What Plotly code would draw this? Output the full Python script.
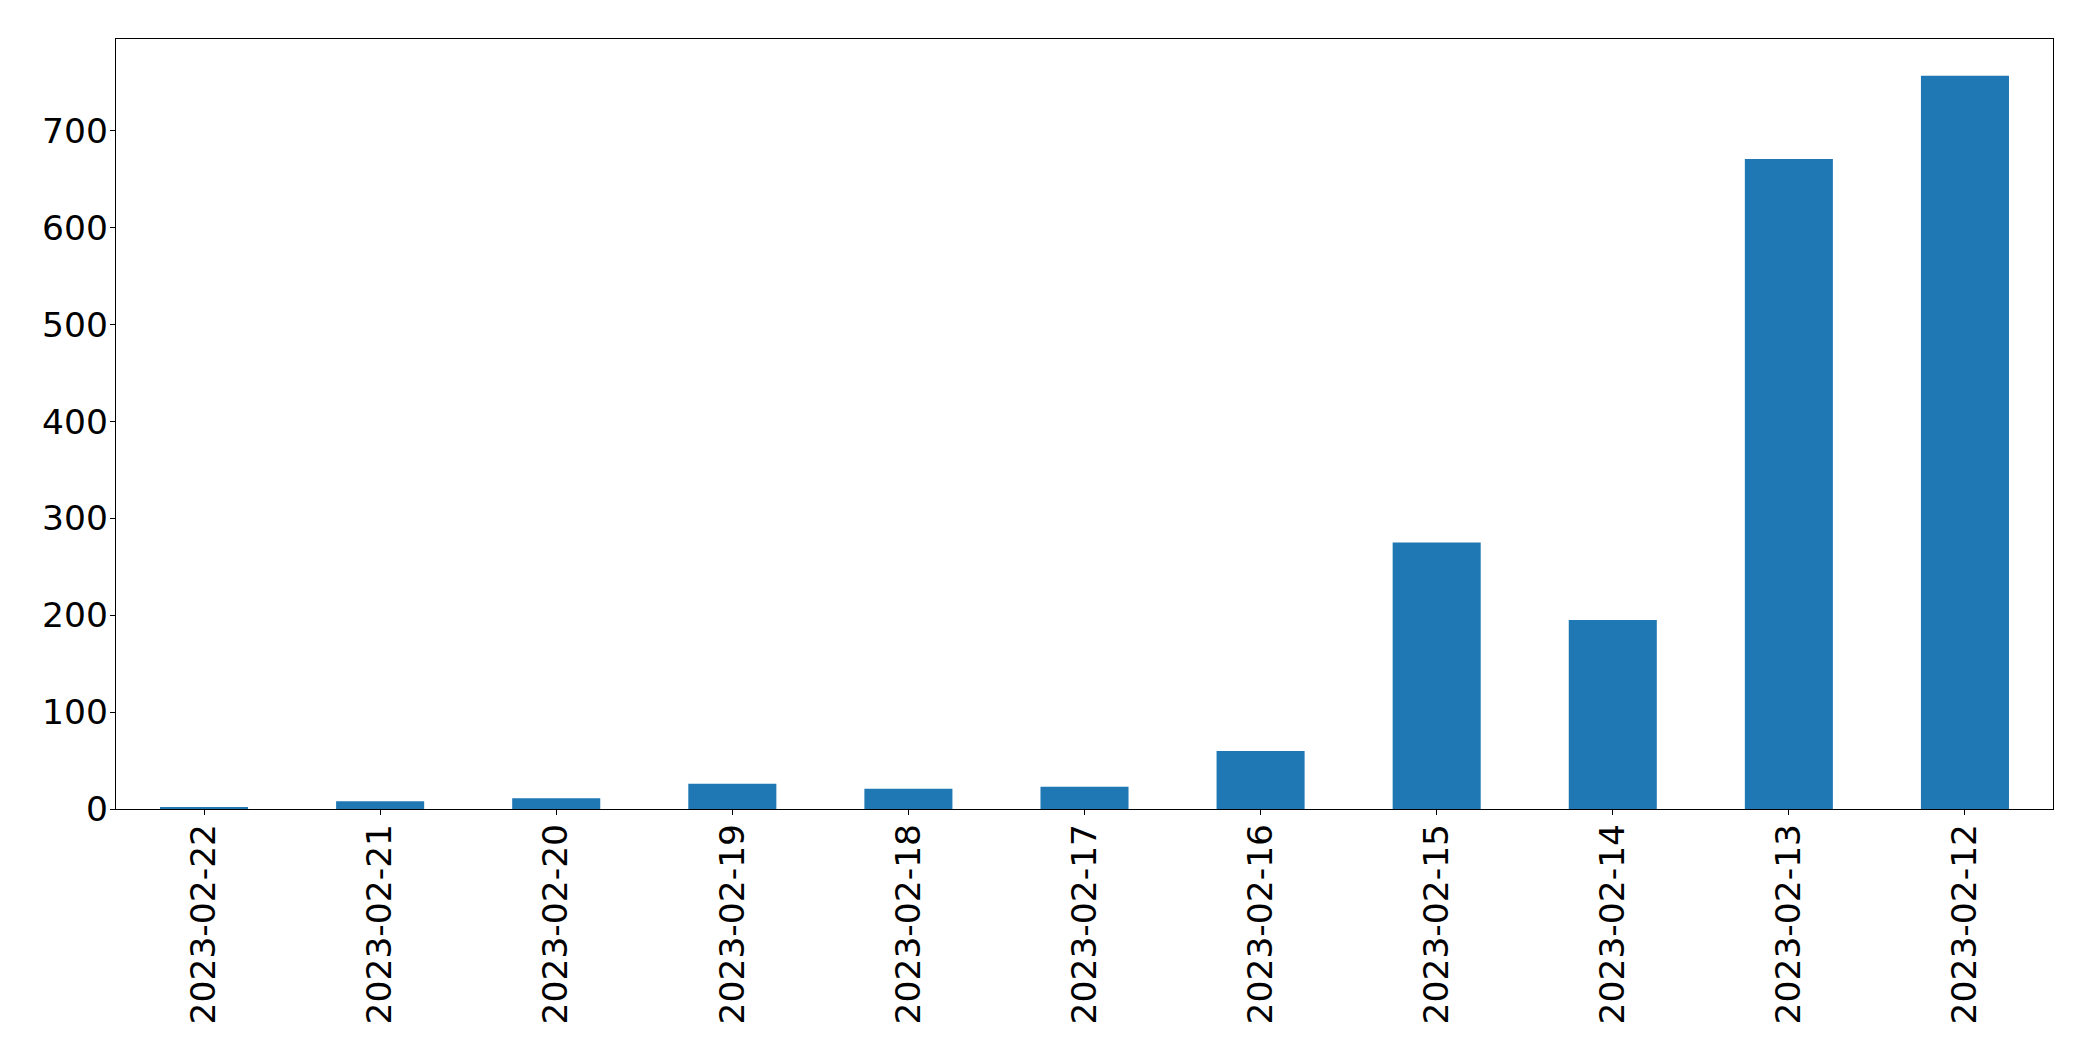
import plotly.graph_objects as go

dates = ["2023-02-22", "2023-02-21", "2023-02-20", "2023-02-19", "2023-02-18",
         "2023-02-17", "2023-02-16", "2023-02-15", "2023-02-14", "2023-02-13",
         "2023-02-12"]
counts = [2, 8, 11, 26, 21, 23, 60, 275, 195, 671, 757]
y_ticks = [0, 100, 200, 300, 400, 500, 600, 700]

fig = go.Figure(go.Bar(x=dates, y=counts, marker=dict(color="#1f77b4", line=dict(width=0))))

font = dict(family="DejaVu Sans", size=34.5, color="black")
fig.update_layout(
    width=2093, height=1061,
    margin=dict(l=116, r=40, t=39, b=252),
    paper_bgcolor="white", plot_bgcolor="white",
    bargap=0.5, showlegend=False,
    font=font,
)
fig.update_xaxes(
    type="category", range=[-0.5, len(dates) - 0.5],
    tickangle=-90, tickfont=font,
    showline=True, mirror=True, linecolor="black", linewidth=1.3,
    ticks="outside", ticklen=5, tickwidth=1.3, tickcolor="black",
    showgrid=False, zeroline=False, ticklabelstandoff=-5,
)
fig.update_yaxes(
    range=[0, max(counts) * 1.05], tickvals=y_ticks, tickfont=font,
    showline=True, mirror=True, linecolor="black", linewidth=1.3,
    ticks="outside", ticklen=5, tickwidth=1.3, tickcolor="black",
    showgrid=False, zeroline=False, ticklabelstandoff=-5,
)
fig.write_html("out.html")
